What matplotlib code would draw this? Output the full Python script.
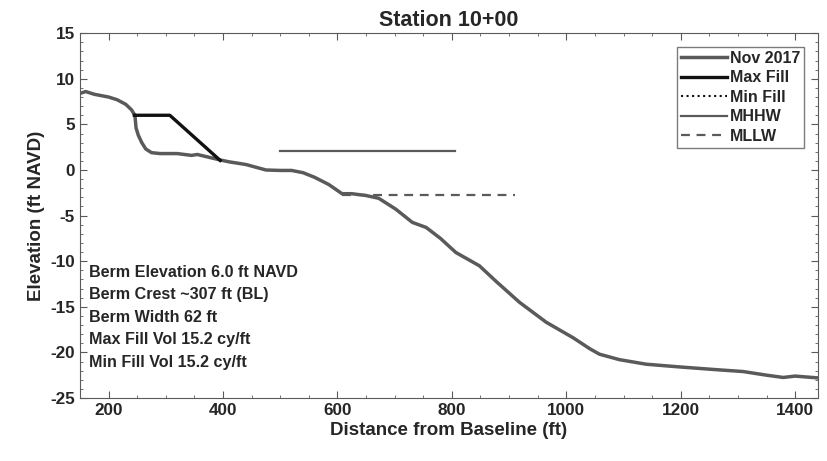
import numpy as np
import matplotlib.pyplot as plt
from matplotlib.ticker import MultipleLocator

plt.rcParams['font.family'] = ['Liberation Sans', 'DejaVu Sans']
plt.rcParams['font.weight'] = 'bold'
plt.rcParams['axes.unicode_minus'] = False

# Nov 2017 survey profile
dist = [150, 160, 175, 200, 215, 230, 240, 246, 248, 252, 258, 265, 275, 290,
        320, 345, 355, 375, 395, 410, 440, 475, 500, 520, 540, 560, 585, 608,
        625, 650, 672, 702, 731, 755, 780, 807, 848, 877, 918, 965, 1012, 1041,
        1058, 1093, 1140, 1199, 1263, 1309, 1350, 1379, 1400, 1440]
elev = [8.4, 8.6, 8.3, 8.0, 7.7, 7.2, 6.6, 6.0, 4.6, 3.8, 3.0, 2.3, 1.9, 1.8,
        1.8, 1.6, 1.7, 1.4, 1.1, 0.9, 0.6, 0.0, -0.05, -0.05, -0.3, -0.8, -1.6,
        -2.6, -2.6, -2.8, -3.1, -4.3, -5.75, -6.3, -7.5, -9.05, -10.5, -12.2,
        -14.5, -16.7, -18.4, -19.6, -20.2, -20.8, -21.3, -21.6, -21.9, -22.1,
        -22.5, -22.75, -22.6, -22.8]

# berm template (max and min fill coincide here)
fill_x = [245, 307, 395]
fill_y = [6.0, 6.0, 1.05]

mhhw_x = [500, 805]
mhhw_y = [2.1, 2.1]
mllw_x = [608, 910]
mllw_y = [-2.7, -2.7]

notes = ["Berm Elevation 6.0 ft NAVD",
         "Berm Crest ~307 ft (BL)",
         "Berm Width 62 ft",
         "Max Fill Vol 15.2 cy/ft",
         "Min Fill Vol 15.2 cy/ft"]

txt = '#262626'
grey = '#5a5a5a'

fig = plt.figure(figsize=(8.28, 4.61), dpi=100)
ax = fig.add_axes([0.0966, 0.1367, 0.8914, 0.7913])

ax.plot(dist, elev, color=grey, lw=2.5, label='Nov 2017')
ax.plot(fill_x, fill_y, color='#111111', lw=2.4, label='Max Fill')
ax.plot(fill_x, fill_y, color='#111111', lw=1.5, ls=':', label='Min Fill', zorder=1)
ax.plot(mhhw_x, mhhw_y, color=grey, lw=1.6, label='MHHW')
ax.plot(mllw_x, mllw_y, color=grey, lw=1.6, ls=(0, (4, 3)), label='MLLW')

for i, s in enumerate(notes):
    ax.text(165, -11.2 - i * 2.47, s, fontsize=11.6, color=txt, va='center')

ax.set_xlim(150, 1440)
ax.set_ylim(-25, 15)
ax.xaxis.set_major_locator(MultipleLocator(200))
ax.xaxis.set_minor_locator(MultipleLocator(50))
ax.yaxis.set_major_locator(MultipleLocator(5))
ax.yaxis.set_minor_locator(MultipleLocator(1))
ax.tick_params(which='both', direction='in', top=True, right=True,
               colors=grey, labelcolor=txt, labelsize=12.3)
ax.tick_params(which='major', length=5)
ax.tick_params(which='minor', length=2.5)
for sp in ax.spines.values():
    sp.set_color(grey)

ax.set_title('Station 10+00', fontsize=15.5, fontweight='bold', color=txt, pad=5)
ax.set_xlabel('Distance from Baseline (ft)', fontsize=13.5, fontweight='bold',
              color=txt, labelpad=3)
ax.set_ylabel('Elevation (ft NAVD)', fontsize=13.5, fontweight='bold',
              color=txt, labelpad=4)

leg = ax.legend(loc='upper right', fontsize=11.5, handlelength=2.9, handletextpad=0.15,
                labelspacing=0.28, borderpad=0.25, borderaxespad=0, fancybox=False,
                bbox_to_anchor=(0.981, 0.9625))
leg.get_frame().set_edgecolor(grey)
leg.get_frame().set_linewidth(1.0)
for t in leg.get_texts():
    t.set_color(txt)

fig.savefig('out.png', dpi=100)
